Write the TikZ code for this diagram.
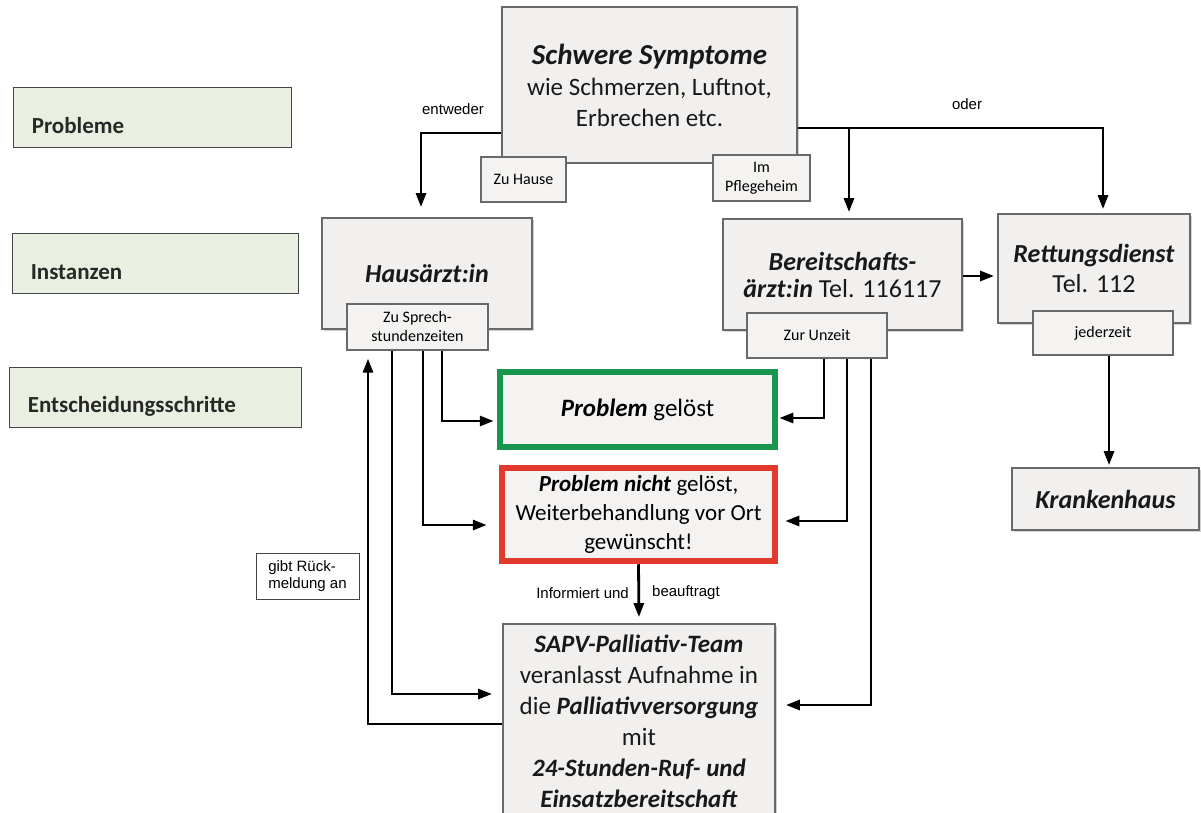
\documentclass[tikz,border=0pt]{standalone}
\usepackage{fontspec}
\setmainfont{Carlito}
\newfontfamily\arialfont{Liberation Sans}
\usetikzlibrary{arrows.meta,shadows}

\definecolor{boxfill}{RGB}{242,240,238}
\definecolor{boxline}{RGB}{105,105,105}
\definecolor{subfill}{RGB}{244,243,241}
\definecolor{lblfill}{RGB}{234,240,225}
\definecolor{lblline}{RGB}{70,70,70}
\definecolor{okgreen}{RGB}{24,150,78}
\definecolor{nogred}{RGB}{226,58,44}
\definecolor{inkgray}{RGB}{40,40,40}

\newcommand{\bfit}[1]{\textbf{\textit{#1}}}

\tikzset{
  mainbox/.style={draw=boxline, line width=1.8pt, fill=boxfill, inner sep=0pt,
    align=center, text=black!90, font=\fontsize{25}{31}\selectfont,
    drop shadow={shadow xshift=1.5pt, shadow yshift=-1.5pt, opacity=0.35}},
  subbox/.style={draw=boxline, line width=1.4pt, fill=subfill, inner sep=0pt,
    align=center, font=\fontsize{16}{19}\selectfont,
    drop shadow={shadow xshift=1pt, shadow yshift=-1pt, opacity=0.35}},
  statebox/.style={line width=6.5pt, fill=subfill, inner sep=0pt, align=center,
    font=\fontsize{23}{29}\selectfont},
  lblbox/.style={draw=lblline, line width=0.8pt, fill=lblfill, inner sep=0pt},
  lbltext/.style={text=inkgray, font=\fontsize{23}{25}\selectfont\bfseries, inner sep=0pt},
  smalltext/.style={font=\arialfont\fontsize{15}{17}\selectfont, inner sep=0pt},
  notebox/.style={draw=lblline, line width=0.8pt, fill=white, inner sep=0pt, align=left,
    font=\arialfont\fontsize{15}{17}\selectfont},
  arr/.style={-{Triangle[length=14pt,width=10pt]}, line width=2.8pt, black},
}

\begin{document}
\begin{tikzpicture}[x=1pt,y=-1pt]
  \fill[white] (0,0) rectangle (1201,813);
  \useasboundingbox (0,0) rectangle (1201,813);

  % row labels
  \foreach \name/\x/\y/\w/\txt in {prob/152/117/278/Probleme, inst/155/263.5/286/Instanzen, ents/155/397/292/Entscheidungsschritte}{
    \node[lblbox, minimum width=\w pt, minimum height=60pt] (\name) at (\x,\y) {};
    \node[lbltext, anchor=west] (\name txt) at ([xshift=19pt,yshift=-9pt]\name.west) {\txt};
  }

  % problem
  \node[mainbox, minimum width=295pt, minimum height=156pt] (sym) at (649.5,85)
    {{\fontsize{29}{31}\selectfont\bfit{Schwere Symptome}}\\wie Schmerzen, Luftnot,\\Erbrechen etc.};
  \node[subbox, minimum width=85pt, minimum height=45pt] (home) at (523.5,179.5) {Zu Hause};
  \node[subbox, minimum width=97pt, minimum height=46pt] (care) at (761.5,178) {Im\\Pflegeheim};

  % instanzen
  \node[mainbox, minimum width=210pt, minimum height=111pt, font=\fontsize{26}{28}\selectfont] (haus) at (427,273.5) {\bfit{Hausärzt:in}};
  \node[mainbox, minimum width=239pt, minimum height=111pt, font=\fontsize{26}{27}\selectfont] (bereit) at (842.5,274.5)
    {\bfit{Bereitschafts-}\\\bfit{ärzt:in} Tel. 116117};
  \node[mainbox, minimum width=192pt, minimum height=109pt, font=\fontsize{26}{30}\selectfont] (rett) at (1094,268.5)
    {\bfit{Rettungsdienst}\\Tel. 112};
  \node[subbox, minimum width=141pt, minimum height=46pt] (sprech) at (417.5,327) {Zu Sprech-\\stundenzeiten};
  \node[subbox, minimum width=140pt, minimum height=45pt] (unzeit) at (817,335.5) {Zur Unzeit};
  \node[subbox, minimum width=140pt, minimum height=44pt] (jeder) at (1103,333) {jederzeit};
  \node[mainbox, minimum width=187pt, minimum height=62pt, font=\fontsize{26}{28}\selectfont] (krank) at (1105.5,499) {\bfit{Krankenhaus}};

  % entscheidung
  \node[statebox, draw=okgreen, minimum width=275pt, minimum height=75pt, font=\fontsize{25}{29}\selectfont] (solved) at (637.5,409.5)
    {\bfit{Problem} gelöst};
  \node[statebox, draw=nogred, minimum width=273pt, minimum height=93pt] (open) at (638.5,514.5)
    {\bfit{Problem nicht} gelöst,\\Weiterbehandlung vor Ort\\gewünscht!};
  \node[mainbox, minimum width=272pt, minimum height=195pt] (sapv) at (639,721.5)
    {\bfit{SAPV-Palliativ-Team}\\veranlasst Aufnahme in\\die \bfit{Palliativversorgung}\\mit\\\bfit{24-Stunden-Ruf- und}\\\bfit{Einsatzbereitschaft}};

  % top branches
  \draw[arr, shorten >=10pt] ([yshift=-48pt]sym.west) -| ([xshift=-6pt]haus.north);
  \node[smalltext] (either) at (453,109) {entweder};
  \draw[arr, shorten >=4pt] ([yshift=-43pt]sym.east) -| ([xshift=9pt]rett.north);
  \node[smalltext] (or) at (967,104) {oder};
  \coordinate (split) at (849,128);
  \draw[arr, shorten >=6pt] (split) -- (split |- bereit.north);
  \draw[arr, shorten >=3pt] ([yshift=-1.5pt]bereit.east) -- ([yshift=-1.5pt]bereit.east -| rett.west);
  \draw[arr, shorten >=2pt] ([xshift=6pt]jeder.south) -- ([xshift=6pt]jeder.south |- krank.north);

  % from Hausaerzt:in
  \draw[arr, shorten >=3pt] ([xshift=24.5pt]sprech.south) |- ([yshift=-11.5pt]solved.west);
  \draw[arr, shorten >=12pt] ([xshift=5.5pt]sprech.south) |- ([yshift=-10.5pt]open.west);
  \draw[arr, shorten >=10pt] ([xshift=-25.5pt]sprech.south) |- ([yshift=27.5pt]sapv.west);
  \draw[arr, shorten >=8pt] ([yshift=-2.5pt]sapv.west) -| ([xshift=-49.5pt]sprech.south);
  \node[notebox, minimum width=103pt, minimum height=46pt] (rueck) at (307.5,576) {gibt Rück-\\meldung an};

  % from Bereitschaft
  \draw[arr, shorten >=1pt] ([xshift=7pt]unzeit.south) |- ([yshift=-8.5pt]solved.east);
  \draw[arr, shorten >=7pt] ([xshift=30pt]unzeit.south) |- ([yshift=-6.5pt]open.east);
  \draw[arr, shorten >=10pt] ([xshift=54pt]unzeit.south) |- ([yshift=16.5pt]sapv.east);

  % to SAPV
  \draw[arr, shorten >=6pt] (open.south) -- (sapv.north);
  \node[smalltext, anchor=east] (inform) at (629,593) {Informiert und};
  \node[smalltext, anchor=west] (assign) at (652,593) {beauftragt};
\end{tikzpicture}
\end{document}
